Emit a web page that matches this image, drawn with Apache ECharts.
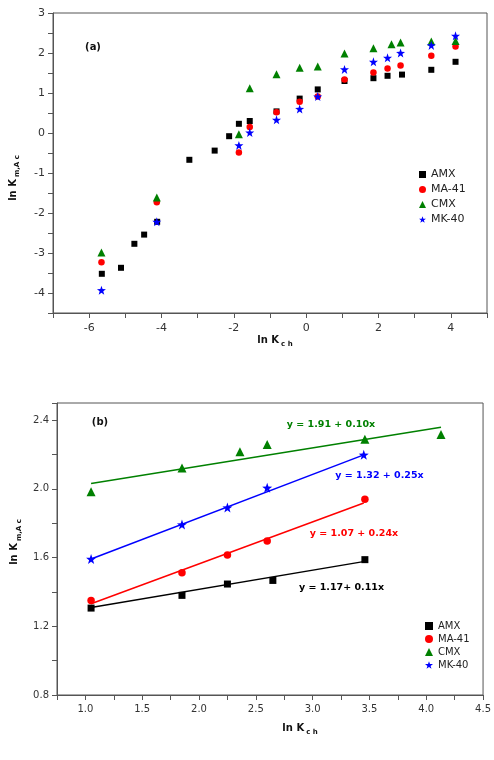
<!DOCTYPE html>
<html>
<head>
<meta charset="utf-8">
<script src="https://cdn.jsdelivr.net/npm/echarts@6/dist/echarts.min.js"></script>
<style>
html, body { margin: 0; padding: 0; background: #fff; }
#chart { width: 494px; height: 760px; }
</style>
</head>
<body>
<div id="chart"></div>
<script>
// ---- panel (a) : all points ----
var aAmxX = [-5.65, -5.12, -4.75, -4.48, -4.12, -3.23, -2.53, -2.13, -1.86, -1.56, -0.82, -0.18, 0.32, 1.06, 1.86, 2.25, 2.65, 3.46, 4.13];
var aAmxY = [-3.52, -3.37, -2.77, -2.54, -2.22, -0.67, -0.44, -0.08, 0.23, 0.30, 0.54, 0.86, 1.09, 1.30, 1.37, 1.43, 1.46, 1.58, 1.78];
var aMaX = [-5.66, -4.13, -1.86, -1.56, -0.82, -0.18, 0.32, 1.06, 1.86, 2.25, 2.61, 3.46, 4.13];
var aMaY = [-3.23, -1.73, -0.49, 0.15, 0.52, 0.78, 0.91, 1.34, 1.51, 1.61, 1.69, 1.93, 2.16];
var aCmxX = [-5.66, -4.13, -1.86, -1.56, -0.82, -0.18, 0.32, 1.06, 1.86, 2.36, 2.61, 3.46, 4.13];
var aCmxY = [-2.99, -1.61, -0.03, 1.12, 1.47, 1.63, 1.66, 1.99, 2.12, 2.22, 2.26, 2.29, 2.30];
var aMkX = [-5.66, -4.13, -1.86, -1.56, -0.82, -0.18, 0.32, 1.06, 1.86, 2.25, 2.61, 3.46, 4.13];
var aMkY = [-3.93, -2.22, -0.31, 0.01, 0.33, 0.60, 0.91, 1.59, 1.78, 1.88, 2.00, 2.19, 2.43];

// ---- panel (b) : linear region ----
var bAmxX = [1.05, 1.85, 2.25, 2.65, 3.46];
var bAmxY = [1.306, 1.38, 1.446, 1.467, 1.588];
var bMaX = [1.05, 1.85, 2.25, 2.60, 3.46];
var bMaY = [1.35, 1.512, 1.615, 1.696, 1.939];
var bCmxX = [1.05, 1.85, 2.36, 2.60, 3.46, 4.13];
var bCmxY = [1.984, 2.122, 2.216, 2.258, 2.289, 2.317];
var bMkX = [1.05, 1.85, 2.25, 2.60, 3.45];
var bMkY = [1.592, 1.792, 1.891, 2.006, 2.198];

// fitted lines (end points)
var fitAmxX = [1.05, 3.46], fitAmxY = [1.310, 1.578];
var fitMaX = [1.05, 3.45], fitMaY = [1.331, 1.918];
var fitCmxX = [1.05, 4.13], fitCmxY = [2.031, 2.359];
var fitMkX = [1.05, 3.45], fitMkY = [1.592, 2.198];

var names = ['AMX', 'MA-41', 'CMX', 'MK-40'];
var colors = ['#000000', '#ff0000', '#008000', '#0000ff'];
var star = 'path://M50,0L61.8,33.8L97.6,34.5L69,56.2L79.4,90.5L50,70L20.6,90.5L31,56.2L2.4,34.5L38.2,33.8Z';
var symbols = ['rect', 'circle', 'triangle', star];
var equations = ['y = 1.17+ 0.11x', 'y = 1.07 + 0.24x', 'y = 1.91 + 0.10x', 'y = 1.32 + 0.25x'];

function zip(xs, ys) {
  return xs.map(function (x, i) { return [x, ys[i]]; });
}

var font = 'DejaVu Sans';
var axisCol = '#555';

var aPts = [zip(aAmxX, aAmxY), zip(aMaX, aMaY), zip(aCmxX, aCmxY), zip(aMkX, aMkY)];
var bPts = [zip(bAmxX, bAmxY), zip(bMaX, bMaY), zip(bCmxX, bCmxY), zip(bMkX, bMkY)];
var bFit = [zip(fitAmxX, fitAmxY), zip(fitMaX, fitMaY), zip(fitCmxX, fitCmxY), zip(fitMkX, fitMkY)];
var aSize = [6, 6.5, 8, 9];
var bSize = [7, 7.5, 9, 10];

var nameRich = {
  b: { fontFamily: font, fontWeight: 'bold', fontSize: 10, color: '#111', lineHeight: 16, verticalAlign: 'middle' },
  s: { fontFamily: font, fontWeight: 'bold', fontSize: 7, color: '#111', lineHeight: 16, verticalAlign: 'bottom', padding: [0, 0, 0, 2] }
};

function axisBase(min, max, step, fmt, fs) {
  return {
    type: 'value', min: min, max: max, interval: step,
    axisLine: { show: true, onZero: false, lineStyle: { color: axisCol, width: 1 } },
    axisTick: { show: true, length: 5, lineStyle: { color: axisCol } },
    splitLine: { show: false },
    axisLabel: { fontFamily: font, fontSize: fs, color: '#333', margin: 8, formatter: fmt, showMinLabel: true, showMaxLabel: true }
  };
}

var series = [];
names.forEach(function (n, i) {
  series.push({
    name: n, type: 'scatter', xAxisIndex: 0, yAxisIndex: 0,
    data: aPts[i], symbol: symbols[i], symbolSize: aSize[i],
    itemStyle: { color: colors[i], opacity: 1 }, z: 3 + i
  });
});
names.forEach(function (n, i) {
  series.push({
    name: n + ' fit', type: 'line', xAxisIndex: 1, yAxisIndex: 1,
    data: bFit[i], symbol: 'none', silent: true,
    lineStyle: { color: colors[i], width: 1.5 }, z: 2
  });
  series.push({
    name: n, type: 'scatter', xAxisIndex: 1, yAxisIndex: 1,
    data: bPts[i], symbol: symbols[i], symbolSize: bSize[i],
    itemStyle: { color: colors[i], opacity: 1 }, z: 3 + i
  });
});

var xa = axisBase(-7, 5, 1, function (v) { return Math.round(v) % 2 === 0 ? String(v) : ''; }, 11);
xa.gridIndex = 0;
xa.name = '{b|ln K}{s|c h}';
xa.nameLocation = 'middle';
xa.nameGap = 19;
xa.nameTextStyle = { rich: nameRich, padding: [0, 0, 0, 10] };
xa.axisLabel.margin = 10;

var ya = axisBase(-4.5, 3, 0.5, function (v) { return Math.abs(v - Math.round(v)) < 1e-6 ? String(Math.round(v)) : ''; }, 11);
ya.gridIndex = 0;
ya.name = '{b|ln K}{s|m,A c}';
ya.nameLocation = 'middle';
ya.nameRotate = 90;
ya.nameGap = 32;
ya.nameTextStyle = { rich: nameRich, padding: [0, 30, 0, 0] };

var xb = axisBase(0.75, 4.5, 0.25, function (v) {
  var k = (v - 0.75) / 0.25;
  return Math.abs(k - Math.round(k)) < 1e-6 && Math.round(k) % 2 === 1 ? v.toFixed(1) : '';
}, 10);
xb.gridIndex = 1;
xb.name = '{b|ln K}{s|c h}';
xb.nameLocation = 'middle';
xb.nameGap = 25;
xb.nameTextStyle = { rich: nameRich, padding: [0, 0, 0, 60] };
xb.axisLabel.margin = 9;

var yb = axisBase(0.8, 2.5, 0.2, function (v) {
  var k = (v - 0.8) / 0.2;
  return Math.abs(k - Math.round(k)) < 1e-6 && Math.round(k) % 2 === 0 ? v.toFixed(1) : '';
}, 10);
yb.gridIndex = 1;
yb.name = '{b|ln K}{s|m,A c}';
yb.nameLocation = 'middle';
yb.nameRotate = 90;
yb.nameGap = 24;
yb.nameTextStyle = { rich: nameRich, padding: [0, 0, 0, 14] };

var eqPos = [[341.5, 588], [354, 534], [331, 425], [379.5, 476]];
var graphics = [
  { type: 'text', x: 93, y: 47, style: { text: '(a)', font: 'bold 10px "DejaVu Sans"', fill: '#111', align: 'center', verticalAlign: 'middle' } },
  { type: 'text', x: 100, y: 422, style: { text: '(b)', font: 'bold 10px "DejaVu Sans"', fill: '#111', align: 'center', verticalAlign: 'middle' } }
];
equations.forEach(function (t, i) {
  graphics.push({ type: 'text', x: eqPos[i][0], y: eqPos[i][1],
    style: { text: t, font: 'bold 9.5px "DejaVu Sans"', fill: colors[i], align: 'center', verticalAlign: 'middle' } });
});

var legendData = names.map(function (n, i) { return { name: n, icon: symbols[i] }; });

var option = {
  animation: false,
  backgroundColor: '#fff',
  grid: [
    { left: 46, top: 13, width: 441, height: 300, show: true, borderColor: axisCol, borderWidth: 1 },
    { left: 57, top: 403, width: 430, height: 292, show: true, borderColor: axisCol, borderWidth: 1 }
  ],
  xAxis: [xa, xb],
  yAxis: [ya, yb],
  legend: [
    { data: legendData, orient: 'vertical', left: 414, top: 164, itemWidth: 7, itemHeight: 7, itemGap: 4, textGap: 12,
      textStyle: { fontFamily: font, fontSize: 11, color: '#222' }, selectedMode: false },
    { data: legendData, orient: 'vertical', left: 420, top: 616, itemWidth: 8, itemHeight: 8, itemGap: 3, textGap: 11,
      textStyle: { fontFamily: font, fontSize: 10, color: '#222' }, selectedMode: false }
  ],
  graphic: graphics,
  series: series
};

var chart = echarts.init(document.getElementById('chart'));
chart.setOption(option);
</script>
</body>
</html>
